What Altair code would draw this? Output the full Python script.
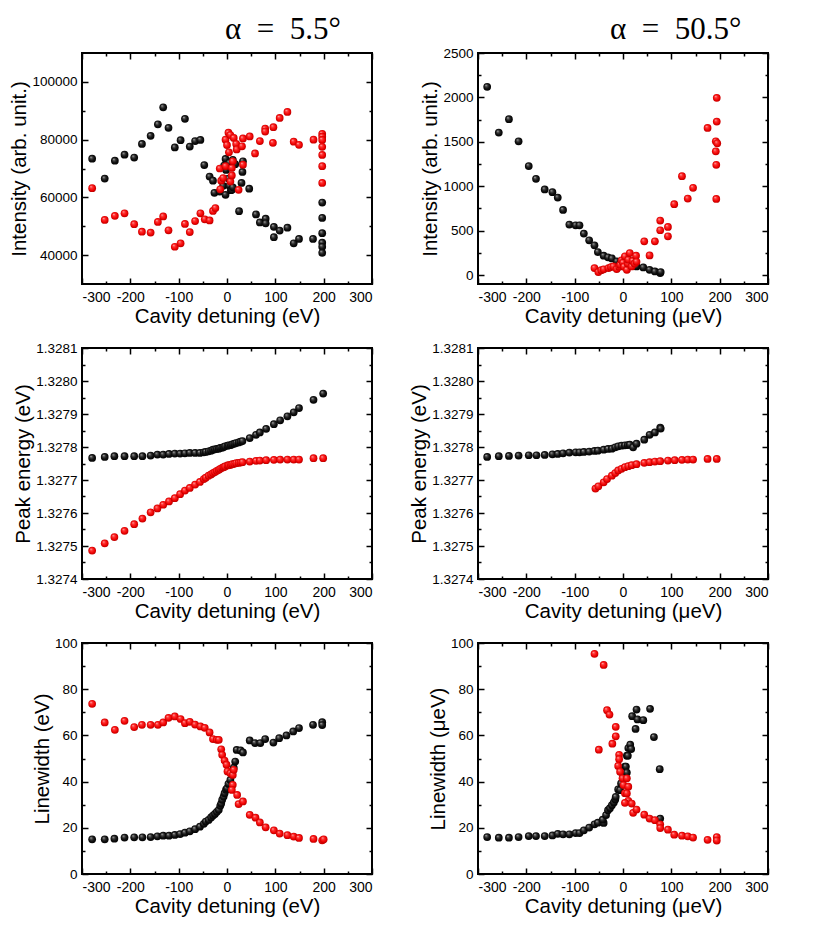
import altair as alt
import pandas as pd

FONT = "Liberation Sans"

# ---------------- data ----------------
X_MAJOR = [-300, -200, -100, 0, 100, 200, 300]
X_MINOR = [-250, -150, -50, 50, 150, 250]

TL_BLACK = [(-279, 73400), (-253, 66500), (-232, 72700), (-212, 74800), (-192, 73800), (-176, 78500),
            (-158, 81300), (-143, 85300), (-132, 91200), (-121, 84100), (-108, 77300), (-96, 79800),
            (-87, 87200), (-77, 77600), (-66, 79500), (-55, 79900), (-47, 71200), (-36, 67200),
            (-29, 65800), (-26, 61600), (-15, 62000), (-8, 64000), (-6, 71000), (-3, 73300),
            (-3, 60900), (-2, 69500), (3, 66500), (5, 64000), (5, 72000), (8, 62500), (10, 62600),
            (12, 73000), (12, 63500), (17, 71500), (25, 55200), (30, 65000), (32, 68800), (33, 72500),
            (46, 63000), (60, 54100), (68, 51300), (80, 52600), (80, 51000), (97, 49800), (97, 46200),
            (109, 48500), (125, 49500), (138, 44100), (149, 45600), (178, 45600), (197, 58200),
            (197, 52900), (197, 47600), (197, 44300), (197, 42900), (197, 40800)]
TL_RED = [(-279, 63200), (-253, 52200), (-232, 53600), (-212, 54500), (-192, 50700), (-176, 48100),
          (-158, 47800), (-143, 51500), (-132, 53400), (-121, 48600), (-108, 42900), (-96, 44100),
          (-87, 50800), (-77, 48000), (-66, 51800), (-55, 54500), (-46, 52400), (-36, 52000),
          (-29, 55300), (-24, 56300), (-14, 62800), (-12, 65800), (-8, 66700), (-15, 70000),
          (-3, 70800), (-3, 80000), (0, 78100), (3, 82400), (4, 75600), (7, 81600), (7, 65500),
          (10, 70200), (10, 67600), (12, 72500), (14, 80600), (19, 78500), (20, 76600), (24, 62600),
          (31, 77700), (33, 80400), (33, 71300), (47, 81100), (58, 75200), (68, 79500), (79, 83800),
          (79, 82800), (96, 84300), (95, 78900), (109, 87500), (125, 89600), (138, 79300),
          (149, 78200), (179, 80000), (197, 82000), (197, 81000), (197, 79900), (197, 77500),
          (197, 74700), (197, 70800), (197, 65000)]

TR_BLACK = [(-281, 2120), (-257, 1604), (-236, 1755), (-216, 1506), (-195, 1227), (-180, 1084),
            (-162, 964), (-146, 934), (-135, 873), (-124, 734), (-111, 569), (-98, 561), (-90, 561),
            (-81, 467), (-70, 392), (-59, 335), (-52, 260), (-40, 218), (-31, 200), (-23, 188),
            (-13, 154), (-5, 140), (4, 135), (10, 125), (18, 117), (28, 98), (42, 87), (55, 60),
            (66, 41), (77, 23), (78, 35)]
TR_RED = [(-59, 79), (-51, 34), (-45, 55), (-40, 65), (-30, 79), (-25, 90), (-20, 98), (-13, 68),
          (-8, 95), (-6, 117), (-3, 166), (0, 140), (2, 95), (4, 211), (8, 60), (10, 130), (11, 173),
          (14, 248), (18, 98), (20, 160), (24, 130), (27, 218), (28, 150), (44, 380), (55, 222),
          (66, 380), (77, 614), (77, 505), (93, 542), (93, 437), (106, 798), (122, 1114), (134, 862),
          (145, 983), (175, 1657), (194, 1995), (194, 1728), (192, 1506), (195, 1483), (192, 1393),
          (193, 1242), (193, 858)]

ML_BLACK = [(-279, 1.327767), (-253, 1.327770), (-233, 1.327772), (-212, 1.327772), (-192, 1.327772),
            (-175, 1.327772), (-158, 1.327774), (-144, 1.327777), (-132, 1.327777), (-120, 1.327779),
            (-108, 1.327780), (-97, 1.327780), (-87, 1.327781), (-77, 1.327782), (-66, 1.327782),
            (-56, 1.327782), (-48, 1.327784), (-44, 1.327785), (-38, 1.327787), (-33, 1.327789),
            (-29, 1.327792), (-25, 1.327793), (-21, 1.327794), (-17, 1.327795), (-14, 1.327797),
            (-10, 1.327798), (-7, 1.327800), (-4, 1.327802), (1, 1.327804), (4, 1.327805),
            (8, 1.327806), (11, 1.327808), (15, 1.327810), (19, 1.327812), (24, 1.327814),
            (28, 1.327816), (32, 1.327818), (47, 1.327827), (60, 1.327837), (68, 1.327844),
            (81, 1.327855), (97, 1.327869), (110, 1.327881), (125, 1.327893), (138, 1.327905),
            (149, 1.327918), (179, 1.327943), (199, 1.327962)]
ML_RED = [(-279, 1.327486), (-253, 1.327508), (-233, 1.327527), (-212, 1.327546), (-192, 1.327566),
          (-175, 1.327583), (-158, 1.327602), (-144, 1.327614), (-132, 1.327625), (-120, 1.327635),
          (-108, 1.327645), (-97, 1.327657), (-87, 1.327668), (-77, 1.327676), (-66, 1.327686),
          (-56, 1.327694), (-48, 1.327703), (-44, 1.327707), (-38, 1.327713), (-33, 1.327717),
          (-29, 1.327721), (-25, 1.327724), (-21, 1.327728), (-17, 1.327731), (-14, 1.327734),
          (-10, 1.327737), (-7, 1.327739), (-4, 1.327741), (1, 1.327744), (4, 1.327745),
          (8, 1.327746), (11, 1.327748), (15, 1.327749), (19, 1.327751), (24, 1.327752),
          (28, 1.327753), (32, 1.327754), (47, 1.327756), (60, 1.327758), (68, 1.327759),
          (81, 1.327760), (97, 1.327761), (110, 1.327762), (125, 1.327762), (138, 1.327762),
          (149, 1.327762), (179, 1.327766), (199, 1.327766)]

MR_BLACK = [(-281, 1.327770), (-257, 1.327772), (-236, 1.327773), (-216, 1.327774), (-195, 1.327775),
            (-179, 1.327775), (-162, 1.327776), (-146, 1.327778), (-135, 1.327779), (-124, 1.327781),
            (-111, 1.327783), (-98, 1.327784), (-90, 1.327784), (-81, 1.327785), (-70, 1.327786),
            (-59, 1.327788), (-52, 1.327789), (-40, 1.327792), (-31, 1.327794), (-23, 1.327795),
            (-16, 1.327799), (-10, 1.327802), (-3, 1.327804), (4, 1.327805), (10, 1.327806),
            (14, 1.327807), (21, 1.327799), (28, 1.327810), (44, 1.327822), (55, 1.327837),
            (66, 1.327844), (77, 1.327859), (78, 1.327856)]
MR_RED = [(-57, 1.327674), (-51, 1.327681), (-40, 1.327693), (-33, 1.327703), (-23, 1.327713),
          (-16, 1.327721), (-10, 1.327729), (-3, 1.327734), (4, 1.327739), (11, 1.327742),
          (18, 1.327745), (28, 1.327748), (44, 1.327752), (55, 1.327754), (66, 1.327756),
          (77, 1.327757), (93, 1.327759), (107, 1.327760), (122, 1.327761), (134, 1.327762),
          (145, 1.327762), (175, 1.327764), (194, 1.327764)]

BL_BLACK = [(-279, 15.0), (-253, 15.0), (-233, 15.3), (-212, 15.8), (-192, 15.9), (-175, 15.9),
            (-158, 16.0), (-144, 16.3), (-132, 16.6), (-120, 16.6), (-108, 16.9), (-97, 17.3),
            (-87, 17.9), (-77, 18.5), (-66, 19.4), (-56, 20.5), (-48, 21.7), (-44, 22.7), (-38, 23.4),
            (-33, 24.5), (-29, 25.3), (-25, 26.0), (-21, 26.9), (-17, 27.8), (-14, 29.5), (-12, 30.5),
            (-10, 32.1), (-7, 33.5), (-5, 35.0), (-2, 36.5), (0, 37.1), (3, 39.0), (7, 40.7),
            (10, 43.6), (14, 46.0), (17, 48.7), (20, 53.7), (28, 53.5), (33, 52.6), (47, 57.8),
            (58, 56.7), (69, 56.7), (79, 58.4), (96, 56.9), (108, 58.8), (123, 60.0), (137, 61.7),
            (149, 63.2), (178, 64.6), (197, 65.7), (197, 64.5)]
BL_RED = [(-279, 73.7), (-253, 65.6), (-232, 62.4), (-212, 66.3), (-192, 63.6), (-176, 64.6),
          (-158, 64.6), (-143, 64.6), (-132, 65.6), (-121, 67.6), (-108, 68.2), (-96, 67.1),
          (-87, 65.3), (-77, 65.9), (-66, 64.7), (-55, 63.9), (-46, 63.3), (-36, 61.3), (-29, 58.4),
          (-21, 58.1), (-17, 58.1), (-12, 54.0), (-10, 51.6), (-5, 49.1), (-1, 47.3), (1, 44.4),
          (7, 43.6), (12, 42.9), (14, 45.1), (12, 38.6), (10, 36.4), (21, 34.2), (24, 30.3),
          (33, 31.4), (47, 25.6), (59, 24.4), (68, 22.3), (80, 20.2), (97, 18.9), (109, 17.5),
          (125, 16.8), (138, 16.2), (149, 15.6), (179, 15.2), (197, 14.6), (200, 15.0)]

BR_BLACK = [(-281, 16.0), (-257, 15.7), (-236, 15.7), (-216, 16.0), (-195, 16.4), (-180, 16.4),
            (-162, 16.4), (-146, 16.7), (-135, 17.4), (-124, 17.2), (-111, 17.2), (-98, 17.7),
            (-90, 17.7), (-81, 18.9), (-70, 20.1), (-59, 21.5), (-52, 22.2), (-40, 22.1), (-42, 23.5),
            (-35, 25.5), (-31, 27.6), (-27, 28.5), (-23, 29.8), (-19, 31.0), (-16, 32.3), (-15, 33.4),
            (-10, 36.6), (-6, 36.3), (-4, 39.2), (0, 42.0), (4, 46.5), (6, 46.5), (8, 43.9),
            (8, 51.2), (10, 51.2), (11, 54.5), (15, 56.0), (17, 54.1), (19, 68.3), (26, 62.8),
            (28, 71.2), (30, 66.9), (42, 66.6), (56, 71.5), (64, 59.3), (76, 45.4), (77, 24.0)]
BR_RED = [(-59, 95.3), (-40, 90.5), (-33, 70.9), (-28, 69.0), (-15, 63.7), (-15, 59.6), (-22, 56.4),
          (-50, 53.8), (-8, 51.6), (-8, 49.7), (-10, 46.8), (-6, 44.3), (-1, 41.4), (8, 41.4),
          (1, 38.5), (11, 37.8), (4, 35.0), (8, 34.9), (11, 31.7), (4, 30.8), (18, 30.5), (21, 26.5),
          (28, 27.9), (44, 25.7), (55, 24.0), (66, 23.3), (77, 21.5), (77, 19.9), (93, 19.2),
          (106, 17.0), (122, 16.6), (134, 16.3), (145, 15.8), (175, 14.8), (194, 16.0), (194, 14.5)]

INT_L_MAJOR = [40000, 60000, 80000, 100000]
INT_L_MINOR = [50000, 70000, 90000]
INT_R_MAJOR = [0, 500, 1000, 1500, 2000, 2500]
INT_R_MINOR = [250, 750, 1250, 1750, 2250]
E_MAJOR = [1.3274, 1.3275, 1.3276, 1.3277, 1.3278, 1.3279, 1.3280, 1.3281]
E_MINOR = [1.32745, 1.32755, 1.32765, 1.32775, 1.32785, 1.32795, 1.32805]
W_MAJOR = [0, 20, 40, 60, 80, 100]
W_MINOR = [10, 30, 50, 70, 90]

TITLES = ["α\u2002=\u20025.5°", "α\u2002=\u200250.5°"]

# ---------------- styling ----------------
W, H = 290, 231
MAJ, MIN = 6, 3


def ball(stops):
    return alt.RadialGradient(
        gradient="radial",
        stops=[alt.GradientStop(offset=o, color=c) for o, c in stops],
        x1=0.35, y1=0.3, r1=0, x2=0.5, y2=0.5, r2=0.55)


BLACK_FILL = ball([(0, "#cfcfcf"), (0.25, "#4a4a4a"), (0.6, "#111111"), (1, "#000000")])
RED_FILL = ball([(0, "#ffd6d6"), (0.25, "#ff3a3a"), (0.7, "#f00000"), (1, "#a80000")])


def axis(orient, values, size, labels=False, title=None, fmt=None, expr=None):
    kw = dict(orient=orient, values=values, tickSize=size, offset=-size, domain=False,
              grid=False, labels=labels, title=title, tickColor="black", tickWidth=1.5)
    if labels:
        vertical = orient in ("left", "right")
        kw["labelPadding"] = 5 if vertical else 6
        kw["titlePadding"] = 2
        kw["labelFont"] = FONT
        kw["titleFont"] = FONT
        kw["labelFontSize"] = 13.5 if vertical else 14
        kw["titleFontSize"] = 20.5
        kw["titleFontWeight"] = "normal"
        kw["labelColor"] = "black"
        kw["titleColor"] = "black"
        if fmt:
            kw["format"] = fmt
        if expr:
            kw["labelExpr"] = expr
    return alt.Axis(**kw)


def panel(black, red, ydom, ymaj, ymin, xtitle, ytitle, yfmt, title=None, tdx=0, toff=0):
    df_b = pd.DataFrame(black, columns=["x", "y"])
    df_r = pd.DataFrame(red, columns=["x", "y"])
    xs = alt.Scale(domain=[-300, 300], nice=False, zero=False)
    ys = alt.Scale(domain=ydom, nice=False, zero=False)

    def enc(xa, ya):
        return dict(x=alt.X("x:Q", scale=xs, axis=xa), y=alt.Y("y:Q", scale=ys, axis=ya))

    minor1 = alt.Chart(df_b).mark_point(opacity=0).encode(
        **enc(axis("bottom", X_MINOR, MIN), axis("left", ymin, MIN)))
    minor2 = alt.Chart(df_b).mark_point(opacity=0).encode(
        **enc(axis("top", X_MINOR, MIN), axis("right", ymin, MIN)))
    blk = alt.Chart(df_b).mark_circle(fill=BLACK_FILL, opacity=1, size=60).encode(
        **enc(axis("bottom", X_MAJOR, MAJ, labels=True, title=xtitle,
                   expr="replace(datum.label, '\u2212', '-')"),
              axis("left", ymaj, MAJ, labels=True, title=ytitle, fmt=yfmt)))
    rd = alt.Chart(df_r).mark_circle(fill=RED_FILL, opacity=1, size=60).encode(
        **enc(axis("top", X_MAJOR, MAJ), axis("right", ymaj, MAJ)))
    ch = alt.layer(minor1, minor2, blk, rd).resolve_axis(x="independent", y="independent")
    props = dict(width=W, height=H)
    if title:
        props["title"] = alt.TitleParams(text=title, font="Liberation Serif", fontSize=31,
                                         fontWeight="normal", color="black", anchor="start",
                                         frame="group", dx=tdx, offset=toff)
    return ch.properties(**props)


XT_L = "Cavity detuning (eV)"
XT_R = "Cavity detuning (μeV)"

tl = panel(TL_BLACK, TL_RED, [30000, 110000], INT_L_MAJOR, INT_L_MINOR, XT_L,
           "Intensity (arb. unit.)", "d", TITLES[0], 143, 6)
tr = panel(TR_BLACK, TR_RED, [-100, 2500], INT_R_MAJOR, INT_R_MINOR, XT_R,
           "Intensity (arb. unit.)", "d", TITLES[1], 132, 0)
ml = panel(ML_BLACK, ML_RED, [1.3274, 1.3281], E_MAJOR, E_MINOR, XT_L,
           "Peak energy (eV)", ".4f")
mr = panel(MR_BLACK, MR_RED, [1.3274, 1.3281], E_MAJOR, E_MINOR, XT_R,
           "Peak energy (eV)", ".4f")
bl = panel(BL_BLACK, BL_RED, [0, 100], W_MAJOR, W_MINOR, XT_L, "Linewidth (eV)", "d")
br = panel(BR_BLACK, BR_RED, [0, 100], W_MAJOR, W_MINOR, XT_R, "Linewidth (μeV)", "d")

chart = alt.concat(tl, tr, ml, mr, bl, br, columns=2,
                   spacing={"row": 64, "column": 106}, bounds="flush").properties(
    padding={"left": 0, "top": 5, "right": 0, "bottom": 0}
).configure_view(stroke="black", strokeWidth=2)

chart.save("out.html", embed_options={"renderer": "svg", "actions": False})
